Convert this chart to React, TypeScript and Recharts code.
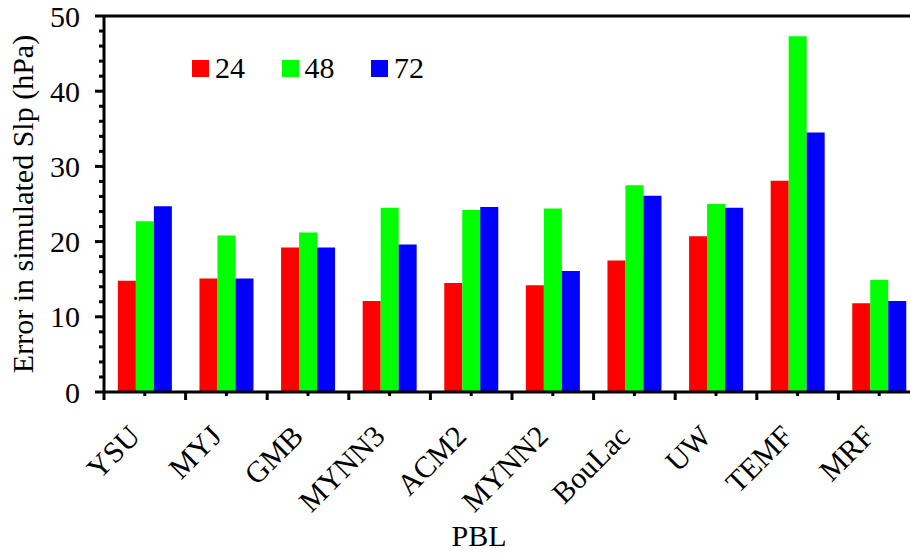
import { Bar, BarChart, ReferenceLine, XAxis, YAxis } from "recharts";

const schemes = ["YSU", "MYJ", "GMB", "MYNN3", "ACM2", "MYNN2", "BouLac", "UW", "TEMF", "MRF"];
const err24 = [14.8, 15.1, 19.2, 12.1, 14.5, 14.2, 17.5, 20.7, 28.1, 11.8];
const err48 = [22.7, 20.8, 21.2, 24.5, 24.2, 24.4, 27.5, 25.0, 47.3, 14.9];
const err72 = [24.7, 15.1, 19.2, 19.6, 24.6, 16.1, 26.1, 24.5, 34.5, 12.1];
const yTicks = [0, 2, 4, 6, 8, 10, 12, 14, 16, 18, 20, 22, 24, 26, 28, 30, 32, 34, 36, 38, 40, 42, 44, 46, 48, 50];

const series = [
  { key: "h24", name: "24", color: "#ff0000" },
  { key: "h48", name: "48", color: "#00ff00" },
  { key: "h72", name: "72", color: "#0000ff" },
];

const data = schemes.map((s, i) => ({ name: s, h24: err24[i], h48: err48[i], h72: err72[i] }));

const FONT = "'Liberation Serif', 'Times New Roman', serif";
const CHART_W = 925;
const CHART_H = 554;
const MARGIN = { top: 16, right: 5, bottom: 0, left: 0 };
const Y_W = 104;
const X_H = 162;
const BAND = (CHART_W - MARGIN.right - MARGIN.left - Y_W) / schemes.length;

const YTick = ({ x, y, payload }: any) => {
  const major = payload.value % 10 === 0;
  return (
    <g>
      <line x1={x - (major ? 9 : 5)} x2={x} y1={y} y2={y} stroke="#000" strokeWidth={3} />
      {major && (
        <text x={x - 24} y={y} dy="0.35em" textAnchor="end" fontSize={30} fontFamily={FONT} fill="#000">
          {payload.value}
        </text>
      )}
    </g>
  );
};

const XTick = ({ x, y, payload }: any) => (
  <g>
    <line x1={x} x2={x} y1={y} y2={y + 4} stroke="#000" strokeWidth={3} />
    <line x1={x - BAND / 2} x2={x - BAND / 2} y1={y} y2={y + 8} stroke="#000" strokeWidth={3} />
    <text
      x={x - 3}
      y={y + 46}
      textAnchor="end"
      fontSize={30}
      fontFamily={FONT}
      fill="#000"
      transform={`rotate(-45, ${x - 3}, ${y + 46})`}
    >
      {payload.value}
    </text>
  </g>
);

export default function App() {
  return (
    <div
      style={{
        position: "fixed",
        left: 0,
        top: 0,
        width: 910,
        height: 554,
        overflow: "hidden",
        background: "#fff",
      }}
    >
      <BarChart
        width={CHART_W}
        height={CHART_H}
        data={data}
        margin={MARGIN}
        barCategoryGap="17%"
        barGap={0}
      >
        <XAxis
          dataKey="name"
          height={X_H}
          interval={0}
          tickSize={0}
          tickMargin={0}
          tick={<XTick />}
          axisLine={{ stroke: "#000", strokeWidth: 3 }}
          label={({ viewBox }: any) => (
            <text
              x={viewBox.x + viewBox.width / 2 - 33}
              y={viewBox.y + 154}
              textAnchor="middle"
              fontSize={30}
              fontFamily={FONT}
              fill="#000"
            >
              PBL
            </text>
          )}
        />
        <YAxis
          width={Y_W}
          domain={[0, 50]}
          ticks={yTicks}
          interval={0}
          tickSize={0}
          tickMargin={0}
          tick={<YTick />}
          axisLine={{ stroke: "#000", strokeWidth: 3 }}
          label={({ viewBox }: any) => {
            const cx = viewBox.x + 22;
            const cy = viewBox.y + viewBox.height / 2;
            return (
              <text
                x={cx}
                y={cy}
                dy="0.35em"
                textAnchor="middle"
                fontSize={30}
                fontFamily={FONT}
                fill="#000"
                transform={`rotate(-90, ${cx}, ${cy})`}
              >
                Error in simulated Slp (hPa)
              </text>
            );
          }}
        />
        <ReferenceLine y={50} stroke="#000" strokeWidth={3} />
        {series.map((s) => (
          <Bar key={s.key} dataKey={s.key} name={s.name} fill={s.color} isAnimationActive={false} />
        ))}
      </BarChart>
      <div
        style={{
          position: "absolute",
          left: 192,
          top: 52,
          display: "flex",
          fontFamily: FONT,
          fontSize: 30,
          color: "#000",
        }}
      >
        {series.map((s) => (
          <div key={s.key} style={{ display: "flex", alignItems: "center", width: 89.5 }}>
            <span style={{ display: "inline-block", width: 17, height: 17, background: s.color, marginRight: 6 }} />
            <span style={{ lineHeight: "32px" }}>{s.name}</span>
          </div>
        ))}
      </div>
    </div>
  );
}
